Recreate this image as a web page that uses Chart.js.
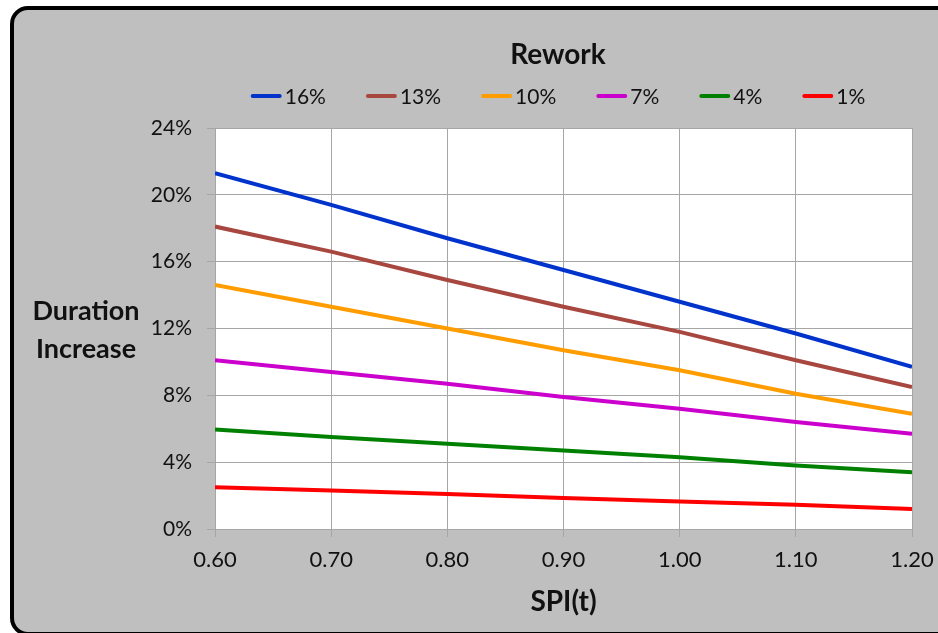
<!DOCTYPE html>
<html>
<head>
<meta charset="utf-8">
<title>Rework - Duration Increase</title>
<script src="https://cdn.jsdelivr.net/npm/chart.js@4.4.1/dist/chart.umd.min.js"></script>
<style>
  html, body { margin: 0; padding: 0; background: #fff; overflow: hidden; }
  #wrap { position: relative; width: 938px; height: 633px; overflow: hidden; }
  #frame {
    position: absolute; left: 10px; top: 6px; width: 945px; height: 630px;
    box-sizing: border-box; border: 4px solid #000; border-radius: 18px; background: #bfbfbf;
  }
  #box { position: absolute; left: 0; top: 0; width: 938px; height: 633px; }
</style>
</head>
<body>
<div id="wrap">
  <div id="frame"></div>
  <div id="box"><canvas id="grafico"></canvas></div>
</div>
<script>
// valores (eixo y em %)
const spi = [0.60, 0.70, 0.80, 0.90, 1.00, 1.10, 1.20]
const rework16 = [21.3, 19.4, 17.4, 15.5, 13.6, 11.7, 9.7]
const rework13 = [18.1, 16.6, 14.9, 13.3, 11.8, 10.1, 8.5]
const rework10 = [14.6, 13.3, 12.0, 10.7, 9.5, 8.1, 6.9]
const rework7 = [10.1, 9.4, 8.7, 7.9, 7.2, 6.4, 5.7]
const rework4 = [5.95, 5.5, 5.1, 4.7, 4.3, 3.8, 3.4]
const rework1 = [2.5, 2.3, 2.1, 1.85, 1.65, 1.45, 1.2]
const seriesLabels = ['16%', '13%', '10%', '7%', '4%', '1%']
const seriesColors = ['#0033cc', '#a8473f', '#ff9c00', '#cc00cc', '#008000', '#ff0000']

const fonte = 'Lato, "Open Sans", sans-serif'
const centroTitulo = 558

function pontos(valores) {
  return spi.map(function (x, i) { return { x: x, y: valores[i] } })
}

// fundo branco da area do grafico
const fundoPlot = {
  id: 'fundoPlot',
  beforeDraw: function (chart) {
    const a = chart.chartArea
    const ctx = chart.ctx
    ctx.save()
    ctx.fillStyle = '#ffffff'
    ctx.fillRect(a.left, a.top, a.right - a.left, a.bottom - a.top)
    ctx.restore()
  }
}

// titulo + legenda em linha, estilo Excel (linha curta colada ao texto)
const legendaLinha = {
  id: 'legendaLinha',
  afterDraw: function (chart) {
    const ctx = chart.ctx
    const y = 96
    const linha = 31
    const gap = 3
    const espaco = 40
    ctx.save()
    ctx.fillStyle = '#111'
    ctx.textAlign = 'center'
    ctx.textBaseline = 'middle'
    ctx.font = 'bold 28px ' + fonte
    ctx.fillText('Rework', centroTitulo, 55)

    ctx.font = '21px ' + fonte
    var larguras = chart.data.datasets.map(function (ds) {
      return linha + gap + ctx.measureText(ds.label).width
    })
    var total = larguras.reduce(function (s, w) { return s + w }, 0) + espaco * (larguras.length - 1)
    var x = centroTitulo - total / 2
    chart.data.datasets.forEach(function (ds, i) {
      ctx.strokeStyle = ds.borderColor
      ctx.lineWidth = 4
      ctx.lineCap = 'round'
      ctx.beginPath()
      ctx.moveTo(x + 2, y)
      ctx.lineTo(x + linha - 2, y)
      ctx.stroke()
      ctx.fillStyle = '#111'
      ctx.textAlign = 'left'
      ctx.fillText(ds.label, x + linha + gap, y + 1)
      x += larguras[i] + espaco
    })
    ctx.restore()
  }
}

// titulo do eixo y na horizontal, em duas linhas
const tituloY = {
  id: 'tituloY',
  afterDraw: function (chart) {
    const ctx = chart.ctx
    const a = chart.chartArea
    ctx.save()
    ctx.font = 'bold 27px ' + fonte
    ctx.fillStyle = '#111'
    ctx.textAlign = 'center'
    ctx.textBaseline = 'middle'
    ctx.fillText('Duration', a.left - 129, 311)
    ctx.fillText('Increase', a.left - 129, 349)
    ctx.restore()
  }
}

window.addEventListener('DOMContentLoaded', function () {
  const ctx = document.getElementById('grafico').getContext('2d')
  const valores = [rework16, rework13, rework10, rework7, rework4, rework1]

  new Chart(ctx, {
    type: 'line',
    data: {
      datasets: valores.map(function (v, i) {
        return {
          label: seriesLabels[i],
          data: pontos(v),
          borderColor: seriesColors[i],
          backgroundColor: seriesColors[i],
          borderWidth: 4,
          pointRadius: 0,
          tension: 0,
          fill: false
        }
      })
    },
    options: {
      responsive: true,
      maintainAspectRatio: false,
      animation: false,
      devicePixelRatio: 1,
      layout: { padding: { top: 128, left: 140, right: 0, bottom: 14 } },
      plugins: {
        legend: { display: false },
        tooltip: { enabled: false },
        title: { display: false }
      },
      scales: {
        x: {
          type: 'linear',
          min: 0.6,
          max: 1.2,
          ticks: {
            stepSize: 0.1,
            padding: 10,
            color: '#111',
            font: { family: fonte, size: 22 },
            maxRotation: 0,
            callback: function (v) { return Number(v).toFixed(2) }
          },
          grid: { color: '#a6a6a6', lineWidth: 1, tickLength: 8 },
          border: { color: '#a6a6a6', width: 1 },
          title: {
            display: true,
            text: 'SPI(t)',
            color: '#111',
            font: { family: fonte, size: 28, weight: 'bold', lineHeight: 1.2 },
            padding: { top: 2, bottom: 0 }
          },
          // rotulo 1.20 pode encostar na borda direita, como no original
          afterFit: function (scale) { scale.paddingRight = 26 }
        },
        y: {
          min: 0,
          max: 24,
          ticks: {
            stepSize: 4,
            padding: 15,
            color: '#111',
            font: { family: fonte, size: 21 },
            callback: function (v) { return v + '%' }
          },
          grid: { color: '#a6a6a6', lineWidth: 1, tickLength: 8 },
          border: { color: '#a6a6a6', width: 1 },
          afterFit: function (scale) { scale.width = 75 }
        }
      }
    },
    plugins: [fundoPlot, legendaLinha, tituloY]
  })
})
</script>
</body>
</html>
